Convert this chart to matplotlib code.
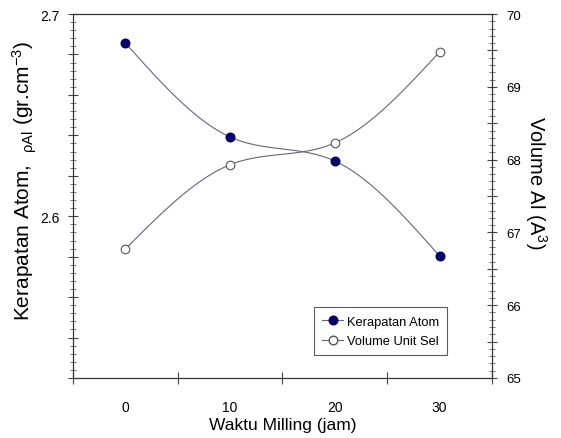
import numpy as np
import matplotlib
matplotlib.use("Agg")
import matplotlib.pyplot as plt
from matplotlib.ticker import MultipleLocator, FuncFormatter, FixedLocator
from matplotlib.lines import Line2D

plt.rcParams['font.family'] = ['Liberation Sans', 'DejaVu Sans']
plt.rcParams['mathtext.fontset'] = 'custom'
plt.rcParams['mathtext.rm'] = 'Liberation Sans'
plt.rcParams['mathtext.it'] = 'Liberation Sans'

waktu = [0, 10, 20, 30]
kerapatan = [2.6857, 2.6392, 2.6273, 2.5803]
volume = [66.77, 67.93, 68.23, 69.48]
x_labels = ['0', '10', '20', '30']


def natural_spline(x, y, n=200):
    x = np.asarray(x, float); y = np.asarray(y, float)
    m = len(x); h = np.diff(x)
    A = np.zeros((m, m)); b = np.zeros(m)
    A[0, 0] = 1; A[-1, -1] = 1
    for i in range(1, m - 1):
        A[i, i - 1] = h[i - 1]; A[i, i] = 2 * (h[i - 1] + h[i]); A[i, i + 1] = h[i]
        b[i] = 3 * ((y[i + 1] - y[i]) / h[i] - (y[i] - y[i - 1]) / h[i - 1])
    c = np.linalg.solve(A, b)
    xs = np.linspace(x[0], x[-1], n)
    ys = np.empty_like(xs)
    for k, xv in enumerate(xs):
        i = min(np.searchsorted(x, xv, side='right') - 1, m - 2)
        dx = xv - x[i]
        bb = (y[i + 1] - y[i]) / h[i] - h[i] * (2 * c[i] + c[i + 1]) / 3
        d = (c[i + 1] - c[i]) / (3 * h[i])
        ys[k] = y[i] + bb * dx + c[i] * dx ** 2 + d * dx ** 3
    return xs, ys


fig = plt.figure(figsize=(5.61, 4.39), dpi=100)
ax = fig.add_axes([0.130, 0.1367, 0.747, 0.829])
ax2 = ax.twinx()

navy = '#000066'
linec = '#666677'

xs, ys = natural_spline(waktu, kerapatan)
ax.plot(xs, ys, color=linec, lw=0.8, zorder=2)
ax.plot(waktu, kerapatan, 'o', color=navy, mec=navy, ms=6.2, zorder=3)

xs2, ys2 = natural_spline(waktu, volume)
ax2.plot(xs2, ys2, color=linec, lw=0.8, zorder=2)
ax2.plot(waktu, volume, 'o', mfc='white', mec='#555555', mew=0.8, ms=6.2, zorder=3)

ax.set_xlim(-5, 35)
ax.set_ylim(2.52, 2.70)
ax2.set_ylim(65, 70)

# x ticks
ax.set_xticks([0, 10, 20, 30])
ax.set_xticklabels(x_labels)
ax.tick_params(axis='x', which='major', length=0, pad=16, labelsize=10)
ax.xaxis.set_minor_locator(FixedLocator([-5, 5, 15, 25, 35]))
ax.tick_params(axis='x', which='minor', direction='inout', length=8, width=0.8, color='#444444')

# left y ticks
ax.yaxis.set_major_locator(MultipleLocator(0.02))
ax.yaxis.set_major_formatter(FuncFormatter(lambda v, p: ('%.1f' % v) if abs(v * 10 - round(v * 10)) < 1e-6 else ''))
ax.yaxis.set_minor_locator(MultipleLocator(0.004))
ax.tick_params(axis='y', which='major', direction='inout', length=7, width=0.8, color='#444444', labelsize=10, pad=6)
ax.tick_params(axis='y', which='minor', direction='inout', length=4, width=0.6, color='#666666')

# right y ticks
ax2.yaxis.set_major_locator(MultipleLocator(0.5))
ax2.yaxis.set_major_formatter(FuncFormatter(lambda v, p: ('%d' % v) if abs(v - round(v)) < 1e-6 else ''))
ax2.yaxis.set_minor_locator(MultipleLocator(0.1))
ax2.tick_params(axis='y', which='major', direction='inout', length=7, width=0.8, color='#444444', labelsize=9.5, pad=7)
ax2.tick_params(axis='y', which='minor', direction='inout', length=4, width=0.6, color='#666666')

for a in (ax, ax2):
    for s in a.spines.values():
        s.set_linewidth(0.8)
        s.set_color('#333333')

ax.set_xlabel('Waktu Milling (jam)', fontsize=12.5, labelpad=2)
ax.set_ylabel(r'Kerapatan Atom,  $_{\rho \mathrm{Al}}$ (gr.cm$^{-3}$)', fontsize=15, labelpad=10)
ax2.set_ylabel(r'Volume Al (A$^{3}$)', fontsize=14.5, rotation=270, labelpad=24)
ax.yaxis.set_label_coords(-0.081, 0.545)
ax2.yaxis.set_label_coords(1.136, 0.54)

handles = [
    Line2D([], [], color=linec, lw=0.8, marker='o', mfc=navy, mec=navy, ms=6.2),
    Line2D([], [], color=linec, lw=0.8, marker='o', mfc='white', mec='#555555', ms=6.2),
]
leg = ax.legend(handles, ['Kerapatan Atom', 'Volume Unit Sel'], loc='lower left',
                bbox_to_anchor=(0.575, 0.062), fontsize=9.3, frameon=True, fancybox=False,
                edgecolor='#333333', handlelength=1.6, handletextpad=0.3, borderpad=0.65,
                labelspacing=0.55, borderaxespad=0)
leg.get_frame().set_linewidth(0.8)

fig.savefig('out.png', dpi=100)
